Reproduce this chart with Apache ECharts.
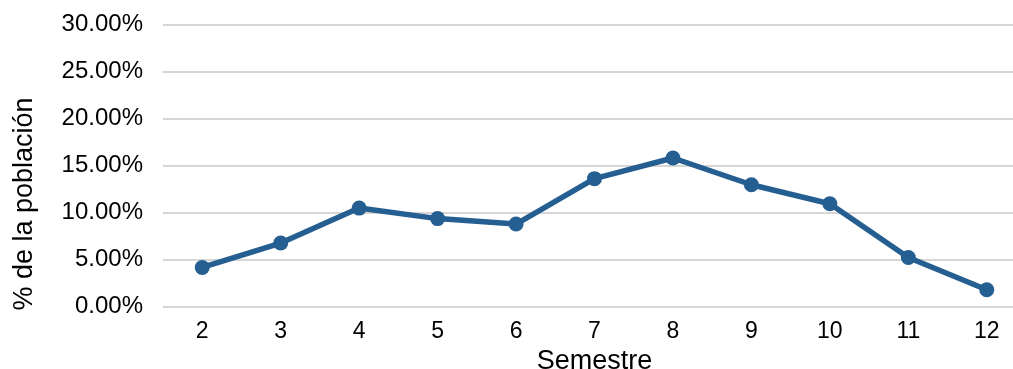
<!DOCTYPE html>
<html>
<head>
<meta charset="utf-8">
<script src="https://cdn.jsdelivr.net/npm/echarts@6/dist/echarts.min.js"></script>
<style>
  html, body { margin: 0; padding: 0; background: #ffffff; }
  #chart { width: 1013px; height: 369px; }
</style>
</head>
<body>
<div id="chart"></div>
<script>
// Semesters and share of the population in each (percent)
const semestres = ['2', '3', '4', '5', '6', '7', '8', '9', '10', '11', '12'];
const porcentaje = [4.15, 6.75, 10.47, 9.35, 8.77, 13.6, 15.8, 12.95, 10.93, 5.22, 1.78];
const yTicks = { min: 0, max: 30, interval: 5 };

const FONT = '"Liberation Sans", Arial, Helvetica, sans-serif';
const chart = echarts.init(document.getElementById('chart'), null, { renderer: 'canvas' });

chart.setOption({
  animation: false,
  backgroundColor: '#ffffff',
  grid: {
    left: 163, top: 24.5, width: 863, height: 282,
    containLabel: false, outerBoundsMode: 'none'
  },
  xAxis: {
    type: 'category',
    data: semestres,
    boundaryGap: true,
    axisLine: { show: false },
    axisTick: { show: false },
    axisLabel: { color: '#000000', fontSize: 23, fontFamily: FONT, margin: 14 },
    name: 'Semestre',
    nameLocation: 'middle',
    nameGap: 36,
    nameTextStyle: { color: '#000000', fontSize: 27, fontFamily: FONT }
  },
  yAxis: {
    type: 'value',
    min: yTicks.min,
    max: yTicks.max,
    interval: yTicks.interval,
    axisLine: { show: false },
    axisTick: { show: false },
    axisLabel: {
      color: '#000000', fontSize: 24, fontFamily: FONT, margin: 20,
      formatter: v => v.toFixed(2) + '%'
    },
    splitLine: { lineStyle: { color: '#d6d6d6', width: 2 } }
  },
  graphic: [{
    type: 'text',
    x: 25,
    y: 204,
    rotation: Math.PI / 2,
    style: {
      text: '% de la población',
      fill: '#000000',
      font: '27px ' + FONT,
      textAlign: 'center',
      textVerticalAlign: 'middle'
    }
  }],
  series: [{
    type: 'line',
    data: porcentaje,
    symbol: 'circle',
    symbolSize: 15,
    lineStyle: { color: '#255e91', width: 5.5 },
    itemStyle: { color: '#255e91' }
  }]
});
</script>
</body>
</html>
